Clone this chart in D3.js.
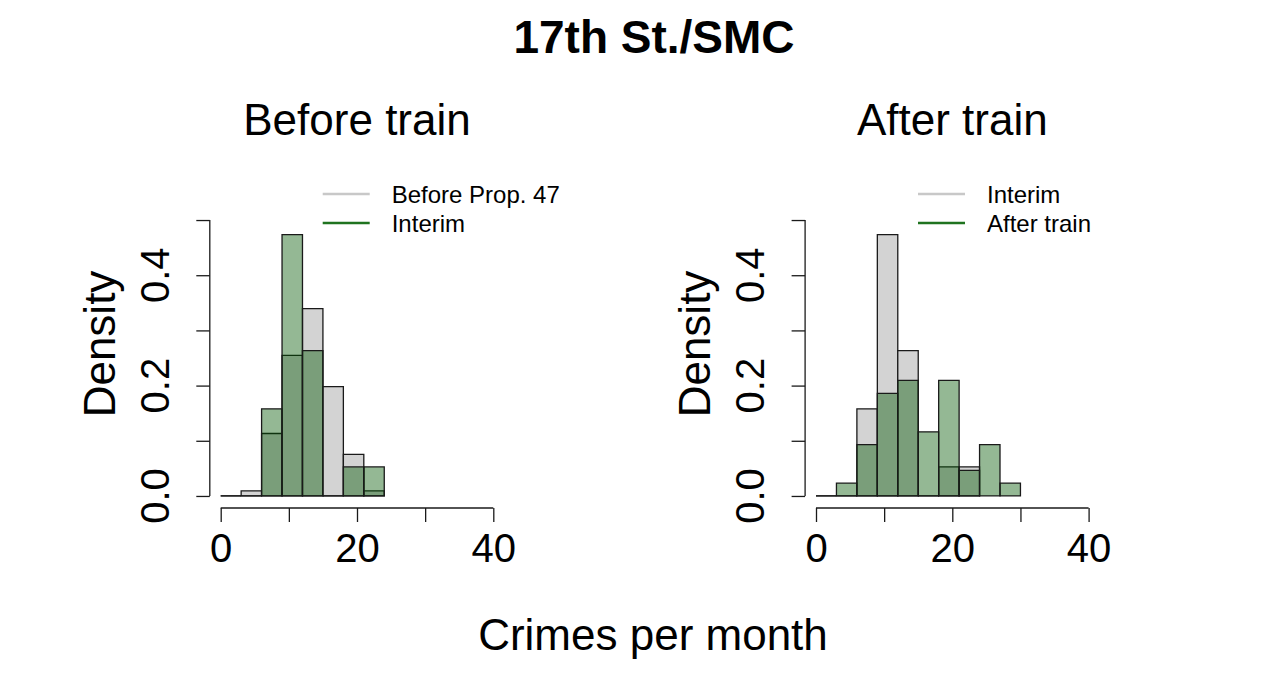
<!DOCTYPE html>
<html>
<head>
<meta charset="utf-8">
<script src="https://cdn.jsdelivr.net/npm/d3@7"></script>
<style>
  body { margin: 0; background: #fff; }
  text { font-family: "Liberation Sans", Arial, Helvetica, sans-serif; fill: #000; }
</style>
</head>
<body>
<div id="chart"></div>
<script>
// bin edges (width 3) shared by all histograms
var binStarts = [0, 3, 6, 9, 12, 15, 18, 21, 24, 27];
var binWidth = 3;

// densities, one per bin starting at 0
var beforeProp47 = [0, 0.0094, 0.1132, 0.2547, 0.3396, 0.1981, 0.0755, 0.0094];
var interim = [0, 0, 0.1579, 0.4737, 0.2632, 0, 0.0526, 0.0526];
var afterTrain = [0, 0.0233, 0.0930, 0.1860, 0.2093, 0.1163, 0.2093, 0.0465, 0.0930, 0.0233];

var xTicks = [0, 10, 20, 30, 40];
var xLabels = [0, 20, 40];
var yTicks = [0, 0.1, 0.2, 0.3, 0.4, 0.5];
var yLabels = [0, 0.2, 0.4];

var panels = [
    { title: "Before train", left: 209.8, back: beforeProp47, front: interim, names: ["Before Prop. 47", "Interim"] },
    { title: "After train", left: 805.1, back: interim, front: afterTrain, names: ["Interim", "After train"] }
];

var W = 1280, H = 689;
var plotW = 294.4;
var grayFill = "#d3d3d3", greenFill = "rgba(0,85,0,0.42)";

var svg = d3.select("#chart").append("svg")
    .attr("width", W)
    .attr("height", H);

//Main title
svg.append("text")
    .attr("x", 654).attr("y", 53)
    .attr("text-anchor", "middle")
    .style("font-size", "46px")
    .style("font-weight", "bold")
    .text("17th St./SMC");

//Shared x label
svg.append("text")
    .attr("x", 653).attr("y", 650)
    .attr("text-anchor", "middle")
    .style("font-size", "44px")
    .text("Crimes per month");

function toBins(values) {
    return values.map((v, i) => ({ x0: binStarts[i], x1: binStarts[i] + binWidth, d: v }));
}

panels.forEach(function (p) {
    var xScale = d3.scaleLinear()
        .domain([-1.6, 41.6])
        .range([p.left, p.left + plotW]);

    var yScale = d3.scaleLinear()
        .domain([-0.02, 0.52])
        .range([507, 209]);

    var g = svg.append("g");

    //Panel title
    g.append("text")
        .attr("x", xScale(20)).attr("y", 135)
        .attr("text-anchor", "middle")
        .style("font-size", "44px")
        .text(p.title);

    //Histograms: grey one behind, translucent green on top
    //(paths so that empty bins still show as a flat line, like R)
    [[p.back, grayFill], [p.front, greenFill]].forEach(function (s) {
        g.append("g").selectAll("path")
            .data(toBins(s[0]))
            .enter().append("path")
            .attr("d", function (d) {
                var a = xScale(d.x0), b = xScale(d.x1), y0 = yScale(0), y1 = yScale(d.d);
                return "M" + a + "," + y0 + "V" + y1 + "H" + b + "V" + y0 + "Z";
            })
            .attr("fill", s[1])
            .attr("stroke", "#1a1a1a")
            .attr("stroke-width", 1.3);
    });

    //X axis
    var xAxis = g.append("g")
        .attr("transform", "translate(0,508)")
        .call(d3.axisBottom(xScale)
            .tickValues(xTicks)
            .tickSize(14)
            .tickPadding(10)
            .tickFormat(d => xLabels.indexOf(d) >= 0 ? d : ""));
    xAxis.select(".domain").remove();
    xAxis.append("line")
        .attr("x1", xScale(0)).attr("x2", xScale(40))
        .attr("stroke", "#1a1a1a").attr("stroke-width", 1.3);
    xAxis.selectAll(".tick line").attr("stroke", "#1a1a1a").attr("stroke-width", 1.3);
    xAxis.selectAll(".tick text")
        .attr("y", 54).attr("dy", null)
        .style("font-size", "40px")
        .style("font-family", "'Liberation Sans', Arial, sans-serif")
        .attr("fill", "#000");

    //Y axis
    var yAxis = g.append("g")
        .attr("transform", "translate(" + p.left + ",0)")
        .call(d3.axisLeft(yScale)
            .tickValues(yTicks)
            .tickSize(13.5)
            .tickFormat(""));
    yAxis.select(".domain").remove();
    yAxis.append("line")
        .attr("y1", yScale(0)).attr("y2", yScale(0.5))
        .attr("stroke", "#1a1a1a").attr("stroke-width", 1.3);
    yAxis.selectAll(".tick line").attr("stroke", "#1a1a1a").attr("stroke-width", 1.3);

    //Rotated y tick labels, R style
    g.selectAll(".ylab")
        .data(yLabels)
        .enter().append("text")
        .attr("class", "ylab")
        .attr("transform", d => "translate(" + (p.left - 41) + "," + yScale(d) + ") rotate(-90)")
        .attr("text-anchor", "middle")
        .style("font-size", "40px")
        .text(d => d.toFixed(1));

    g.append("text")
        .attr("transform", "translate(" + (p.left - 95) + ",344) rotate(-90)")
        .attr("text-anchor", "middle")
        .style("font-size", "44px")
        .text("Density");

    //Legend (no box)
    var x0 = xScale(0);
    var legend = g.append("g").selectAll("g")
        .data([[p.names[0], "#c8c8c8"], [p.names[1], "#1f731f"]])
        .enter().append("g")
        .attr("transform", (d, i) => "translate(0," + (194 + i * 29) + ")");
    legend.append("line")
        .attr("x1", x0 + 102).attr("x2", x0 + 149)
        .attr("stroke", d => d[1])
        .attr("stroke-width", 2.6);
    legend.append("text")
        .attr("x", x0 + 171).attr("y", 9)
        .style("font-size", "24px")
        .text(d => d[0]);
});
</script>
</body>
</html>
